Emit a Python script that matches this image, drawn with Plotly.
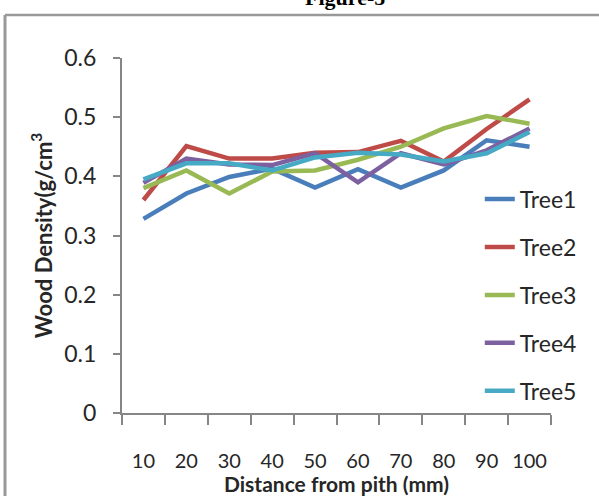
import plotly.graph_objects as go

distance = ["10", "20", "30", "40", "50", "60", "70", "80", "90", "100"]
tree1 = [0.328, 0.371, 0.399, 0.413, 0.381, 0.412, 0.381, 0.410, 0.461, 0.450]
tree2 = [0.360, 0.451, 0.430, 0.430, 0.440, 0.441, 0.460, 0.425, 0.480, 0.530]
tree3 = [0.380, 0.410, 0.371, 0.408, 0.410, 0.428, 0.450, 0.481, 0.502, 0.489]
tree4 = [0.389, 0.430, 0.420, 0.419, 0.439, 0.390, 0.439, 0.420, 0.444, 0.481]
tree5 = [0.395, 0.422, 0.422, 0.410, 0.432, 0.440, 0.437, 0.425, 0.439, 0.475]
names = ["Tree1", "Tree2", "Tree3", "Tree4", "Tree5"]
series = [tree1, tree2, tree3, tree4, tree5]
colors = ["#4A7EBB", "#BE4B48", "#98B954", "#7D60A0", "#46AAC5"]

FONT = "Lato"
fig = go.Figure()
for n, s, c in zip(names, series, colors):
    fig.add_trace(go.Scatter(x=distance, y=s, mode="lines", name=n, legendgroup=n,
                             line=dict(color=c, width=4.5)))

axis_col = "#868686"
fig.update_layout(
    width=599, height=496,
    margin=dict(l=122, r=48, t=58, b=83),
    paper_bgcolor="white", plot_bgcolor="white",
    font=dict(family=FONT, color="#262626"),
    showlegend=True,
    legend=dict(x=0.834, xanchor="left", y=0.663, yanchor="top",
                font=dict(family=FONT, size=23, color="#262626"),
                tracegroupgap=15, bgcolor="rgba(0,0,0,0)"),
    xaxis=dict(type="category", range=[-0.5, 9.5], tickson="boundaries",
               ticks="outside", ticklen=10, tickwidth=1.5, tickcolor=axis_col,
               showline=True, linecolor=axis_col, linewidth=2, showgrid=False,
               tickangle=0, automargin=False,
               tickfont=dict(family=FONT, size=20, color="#262626"),
               ticklabelstandoff=29,
               title=dict(text="<b>Distance from pith (mm)</b>", standoff=4,
                          font=dict(family=FONT, size=21, color="#262626"))),
    yaxis=dict(range=[0, 0.6], dtick=0.1, tick0=0, ticks="outside", ticklen=7,
               tickwidth=1.5, tickcolor=axis_col, showline=True, linecolor=axis_col,
               linewidth=2, showgrid=False, zeroline=False, automargin=False,
               tickfont=dict(family=FONT, size=23, color="#262626"),
               ticklabelstandoff=12,
               title=dict(text="<b>Wood Density(g/cm<sup>3</sup></b>", standoff=6,
                          font=dict(family=FONT, size=22, color="#262626"))),
)

# page borders
fig.add_shape(type="line", xref="paper", yref="paper", x0=-0.2727, x1=1.12,
              y0=1.121, y1=1.121, line=dict(color="#999999", width=2.5))
fig.add_shape(type="line", xref="paper", yref="paper", x0=-0.2727, x1=-0.2727,
              y0=1.121, y1=-0.25, line=dict(color="#999999", width=3))
fig.add_annotation(text="<b>Figure-5</b>", xref="paper", yref="paper", x=0.52,
                   y=1.13, xanchor="center", yanchor="bottom", showarrow=False,
                   font=dict(family="Liberation Serif", size=22, color="black"))

fig.write_html("out.html")
